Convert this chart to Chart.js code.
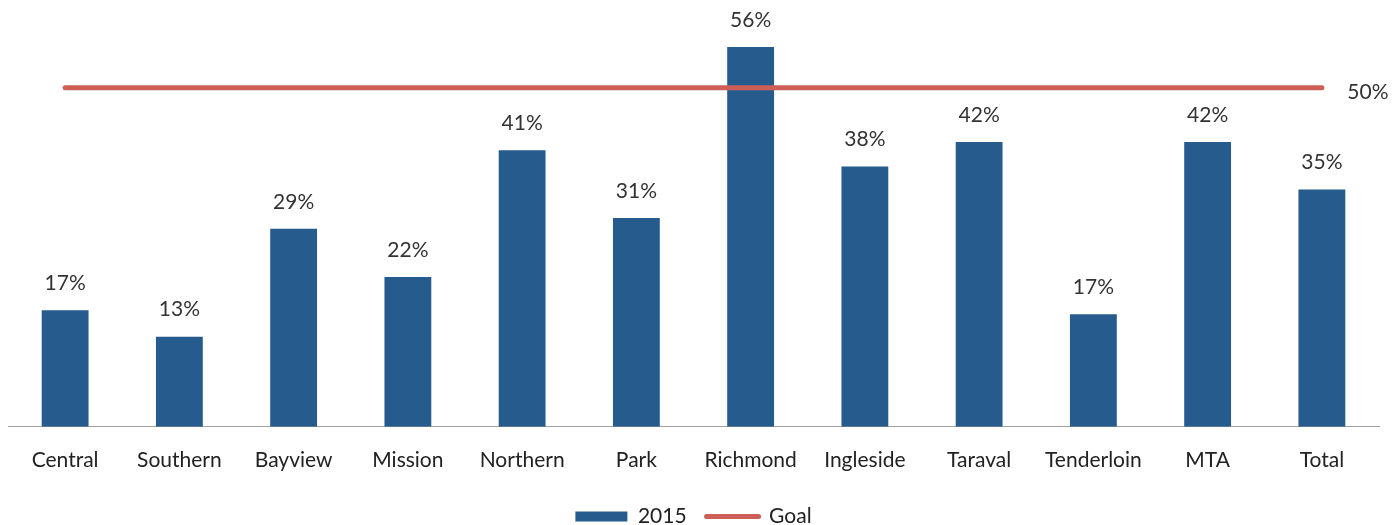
<!DOCTYPE html>
<html>
<head>
<meta charset="utf-8">
<script src="https://cdn.jsdelivr.net/npm/chart.js@4/dist/chart.umd.min.js"></script>
<style>
  html, body { margin: 0; padding: 0; background: #fff; }
  #wrap { width: 1393px; height: 525px; }
</style>
</head>
<body>
<div id="wrap"><canvas id="chart"></canvas></div>
<script>
// Data
const districts = ['Central', 'Southern', 'Bayview', 'Mission', 'Northern', 'Park', 'Richmond', 'Ingleside', 'Taraval', 'Tenderloin', 'MTA', 'Total'];
const values2015 = [17.2, 13.3, 29.2, 22.1, 40.8, 30.8, 56, 38.4, 42, 16.6, 42, 35];
const shownLabels = ['17%', '13%', '29%', '22%', '41%', '31%', '56%', '38%', '42%', '17%', '42%', '35%'];
const goalValue = 50;
const goalLabel = '50%';

const FONT = 'Lato, "Open Sans", sans-serif';
const BLUE = '#265b8e';
const RED = '#cd5f57';

// Draws the % labels over the bars and the goal label at the end of the line
const valueLabels = {
    id: 'valueLabels',
    afterDatasetsDraw(chart) {
        const ctx = chart.ctx;
        ctx.save();
        ctx.font = '21px ' + FONT;
        ctx.fillStyle = '#333';
        ctx.textAlign = 'center';
        ctx.textBaseline = 'middle';
        const barMeta = chart.getDatasetMeta(0);
        barMeta.data.forEach((bar, i) => {
            ctx.fillText(shownLabels[i], bar.x, bar.y - 27);
        });
        const lineMeta = chart.getDatasetMeta(1);
        const last = lineMeta.data[lineMeta.data.length - 1];
        ctx.fillText(goalLabel, last.x + 46, last.y + 4);
        ctx.restore();
    }
};

new Chart(document.getElementById('chart'), {
    type: 'bar',
    data: {
        labels: districts,
        datasets: [{
            label: '2015',
            data: values2015,
            backgroundColor: BLUE,
            barPercentage: 0.82,
            categoryPercentage: 0.5,
            order: 1
        }, {
            type: 'line',
            label: 'Goal',
            data: districts.map(() => goalValue),
            borderColor: RED,
            backgroundColor: RED,
            borderWidth: 5,
            borderCapStyle: 'round',
            pointRadius: 0,
            order: 0
        }]
    },
    options: {
        responsive: true,
        maintainAspectRatio: false,
        animation: false,
        layout: { padding: { left: 8, right: 14, top: 20, bottom: -12 } },
        scales: {
            y: { display: false, min: 0, max: 60 },
            x: {
                grid: { display: false },
                border: { display: true, color: '#a0a0a0', width: 1 },
                ticks: { color: '#222', font: { family: FONT, size: 21 }, padding: 13, maxRotation: 0 }
            }
        },
        plugins: {
            tooltip: { enabled: false },
            legend: {
                position: 'bottom',
                labels: {
                    color: '#222',
                    font: { family: FONT, size: 21 },
                    usePointStyle: true,
                    pointStyleWidth: 52,
                    boxHeight: 10,
                    padding: 20,
                    generateLabels(chart) {
                        const items = Chart.defaults.plugins.legend.labels.generateLabels(chart);
                        items.forEach(item => {
                            if (item.datasetIndex === 0) {
                                item.pointStyle = 'rect';
                                item.lineWidth = 0;
                                item.fillStyle = BLUE;
                            } else {
                                item.pointStyle = 'line';
                                item.lineWidth = 5;
                                item.strokeStyle = RED;
                                item.lineCap = 'round';
                            }
                        });
                        return items.sort((a, b) => a.datasetIndex - b.datasetIndex);
                    }
                }
            }
        }
    },
    plugins: [valueLabels]
});
</script>
</body>
</html>
